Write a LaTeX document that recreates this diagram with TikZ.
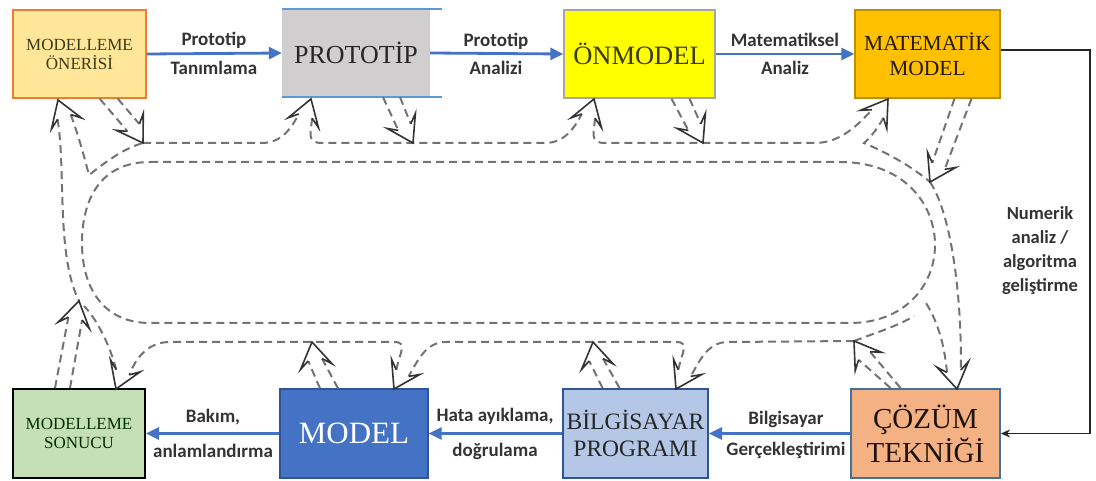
\documentclass[tikz,border=0pt]{standalone}
\usepackage{fontspec}
\setmainfont{Liberation Serif}
\newfontfamily\lblfont{Carlito}
\usetikzlibrary{arrows.meta}
\definecolor{cOneri}{HTML}{FFE699}
\definecolor{cOneriB}{HTML}{ED7D31}
\definecolor{cProto}{HTML}{D0CECE}
\definecolor{cProtoB}{HTML}{5B9BD5}
\definecolor{cOnm}{HTML}{FFFF00}
\definecolor{cOnmB}{HTML}{A6A6A6}
\definecolor{cMat}{HTML}{FFC000}
\definecolor{cMatB}{HTML}{BF8F00}
\definecolor{cSon}{HTML}{C5E0B4}
\definecolor{cModel}{HTML}{4472C4}
\definecolor{cModelB}{HTML}{2F5597}
\definecolor{cBil}{HTML}{B4C7E7}
\definecolor{cCoz}{HTML}{F4B183}
\definecolor{cCozB}{HTML}{41719C}
\definecolor{cFlow}{HTML}{4472C4}
\definecolor{cOlive}{HTML}{3A3A14}
\definecolor{cDash}{HTML}{737373}
\definecolor{cHead}{HTML}{333333}

\newcommand{\hpos}[4]{%
  \begin{scope}[shift={(#2,#3)}, rotate=#4]
    \coordinate (#1t) at (0,0);
    \coordinate (#1a) at (-18,7);
    \coordinate (#1b) at (-18,-7);
    \coordinate (#1p) at (-25,16);
    \coordinate (#1q) at (-25,-16);
  \end{scope}}
\newcommand{\bhead}[1]{%
  \fill[white] (#1t) -- (#1p) -- (#1a) -- (#1b) -- (#1q) -- cycle;
  \draw[headln] (#1a) -- (#1p) -- (#1t) -- (#1q) -- (#1b);}

\begin{document}
\begin{tikzpicture}[x=1pt,y=-1pt,
  box/.style={rectangle, align=center, inner sep=0pt, minimum height=88pt},
  trk/.style={draw=cDash, line width=2pt, dash pattern=on 8pt off 5pt},
  headln/.style={draw=cHead, line width=1.6pt, line join=miter},
  flow/.style={draw=cFlow, line width=2.8pt, -{Triangle[length=13pt,width=12pt]}},
  conn/.style={draw=black!85, line width=1.5pt, -{Stealth[length=9pt,width=8pt]}},
  lbl/.style={font=\lblfont\bfseries\fontsize{19}{22}\selectfont, text=black!80, inner sep=0pt, align=center},
  small/.style={font=\fontsize{17}{19}\selectfont},
]
\useasboundingbox (0,0) rectangle (1096,481);

% ---------- boxes ----------
\node[box, small, minimum width=133pt, fill=cOneri, draw=cOneriB, line width=1.6pt, text=cOlive] (oneri) at (79.5,54) {MODELLEME\\ÖNERİSİ};
\node[box, minimum width=148pt, fill=cProto, text=black!85, font=\fontsize{26}{28}\selectfont] (proto) at (356,53) {PROTOTİP};
\draw[draw=cProtoB, line width=1.6pt] (proto.north west) -- ([xshift=12pt]proto.north east);
\draw[draw=cProtoB, line width=1.6pt] (proto.south west) -- ([xshift=12pt]proto.south east);
\node[box, minimum width=151pt, fill=cOnm, draw=cOnmB, line width=1.4pt, text=cOlive, font=\fontsize{26.5}{28}\selectfont] (onm) at (639.5,54) {ÖNMODEL};
\node[box, minimum width=145pt, fill=cMat, draw=cMatB, line width=1.4pt, text=black!80!brown, font=\fontsize{21.5}{25}\selectfont] (mat) at (927.5,54) {MATEMATİK\\MODEL};

\node[box, small, minimum width=132pt, minimum height=89pt, fill=cSon, draw=black, line width=2pt, text=black!70!green!60!black] (son) at (79,433.5) {MODELLEME\\SONUCU};
\node[box, minimum width=148pt, minimum height=89pt, fill=cModel, draw=cModelB, line width=1.2pt, text=white, font=\fontsize{31}{32}\selectfont] (model) at (354,433.5) {MODEL};
\node[box, minimum width=145pt, minimum height=89pt, fill=cBil, draw=cModelB, line width=2pt, text=black!85, font=\fontsize{23.5}{27}\selectfont] (bil) at (635.5,433.5) {BİLGİSAYAR\\PROGRAMI};
\node[box, minimum width=149pt, minimum height=89pt, fill=cCoz, draw=cCozB, line width=2pt, text=black!85!brown, font=\fontsize{29}{34}\selectfont] (coz) at (925.5,433.5) {ÇÖZÜM\\TEKNİĞİ};

% ---------- flow arrows ----------
\draw[flow] (oneri.east) -- (proto.west);
\draw[flow] (proto.east) -- (onm.west);
\draw[flow] (onm.east) -- (mat.west);
\draw[flow] (coz.west) -- (bil.east);
\draw[flow] (bil.west) -- (model.east);
\draw[flow] (model.west) -- (son.east);

\node[lbl] (l1a) at (214,40) {Prototip};
\node[lbl] (l1b) at (214,68) {Tanımlama};
\node[lbl] (l2a) at (496,41) {Prototip};
\node[lbl] (l2b) at (496,68) {Analizi};
\node[lbl] (l3a) at (785,40) {Matematiksel};
\node[lbl] (l3b) at (785,68) {Analiz};
\node[lbl] (l4a) at (786,419) {Bilgisayar};
\node[lbl] (l4b) at (786,450) {Gerçekleştirimi};
\node[lbl] (l5a) at (495,416) {Hata ayıklama,};
\node[lbl] (l5b) at (495,451) {doğrulama};
\node[lbl] (l6a) at (213,417) {Bakım,};
\node[lbl] (l6b) at (213,451) {anlamlandırma};

% ---------- right connector ----------
\coordinate (rc) at (1090,50);
\draw[conn] ([yshift=4pt]mat.east) -- (rc) |- (coz.east);
\node[lbl, font=\lblfont\bfseries\fontsize{18.5}{24}\selectfont] (num) at (1040,251) {Numerik\\analiz /\\algoritma\\geliştirme};

% ---------- head positions ----------
\hpos{hA}{58}{100}{110}
\hpos{hB}{143}{143}{-58}
\hpos{hC}{311}{99}{72}
\hpos{hD}{413}{143}{-62}
\hpos{hE}{594}{99}{72}
\hpos{hF}{703}{143}{-62}
\hpos{hG}{888}{99}{55}
\hpos{hH}{930}{182}{-118}
\hpos{hI}{957}{389}{-80}
\hpos{hJ}{854}{341}{125}
\hpos{hK}{676}{389}{-118}
\hpos{hL}{593}{342}{100}
\hpos{hM}{394}{389}{-118}
\hpos{hN}{312}{342}{100}
\hpos{hO}{116}{389}{-112}
\hpos{hP}{79}{301}{78}

% ---------- outer track ----------
\draw[trk] (150,162) -- (840,162) .. controls (905,162) and (935,205) .. (935,245)
  .. controls (935,285) and (905,323) .. (850,323) -- (150,323)
  .. controls (105,323) and (82,290) .. (82,243) .. controls (82,200) and (100,162) .. cycle;

% ---------- inner top segments ----------
\draw[trk] (hBt) -- (262,143) .. controls (282,143) and (292,127) .. (hCb);
\draw[trk] (hCa) .. controls (311,132) and (306,143) .. (322,143) -- (545,143) .. controls (565,143) and (575,127) .. (hEb);
\draw[trk] (hEa) .. controls (594,132) and (589,143) .. (605,143) -- (815,143) .. controls (840,143) and (858,125) .. (hGb);
\draw[trk] (hGa) .. controls (878,128) and (870,138) .. (864,143) .. controls (885,152) and (910,165) .. (hHt);

% ---------- left side ----------
\draw[trk] (hAb) .. controls (66,170) and (56,255) .. (hPt);
\draw[trk] (hAa) .. controls (80,140) and (85,160) .. (89,175) .. controls (108,160) and (125,148) .. (hBt);

% ---------- top outgoing bodies ----------
\draw[trk] ([xshift=-47pt]oneri.south east) -- (hBa);
\draw[trk] ([xshift=-29pt]oneri.south east) -- (hBb);
\draw[trk] ([xshift=27pt]proto.south) -- (hDa);
\draw[trk] ([xshift=44pt]proto.south) -- (hDb);
\draw[trk] ([xshift=32pt]onm.south) -- (hFa);
\draw[trk] ([xshift=50pt]onm.south) -- (hFb);
\draw[trk] ([xshift=27pt]mat.south) -- (hHa);
\draw[trk] ([xshift=44pt]mat.south) -- (hHb);

% ---------- right side ----------
\draw[trk] (hHt) .. controls (952,215) and (962,300) .. (hIb);
\draw[trk] (hIa) .. controls (944,340) and (936,318) .. (924,300);
\draw[trk] (hJt) .. controls (875,333) and (898,326) .. (914,316);

% ---------- inner bottom segments ----------
\draw[trk] (hJt) -- (728,342) .. controls (708,342) and (700,360) .. (hKb);
\draw[trk] (hKa) .. controls (682,352) and (690,342) .. (676,342) -- (446,342) .. controls (426,342) and (418,360) .. (hMb);
\draw[trk] (hMa) .. controls (400,352) and (408,342) .. (394,342) -- (170,342) .. controls (150,342) and (137,355) .. (hOb);
\draw[trk] (hOa) .. controls (110,345) and (96,318) .. (84,306);

% ---------- bottom outgoing bodies ----------
\draw[trk] ([xshift=-35pt]coz.north) -- (hJb);
\draw[trk] ([xshift=-25pt]coz.north) -- (hJa);
\draw[trk] ([xshift=-33pt]bil.north) -- (hLb);
\draw[trk] ([xshift=-16pt]bil.north) -- (hLa);
\draw[trk] ([xshift=-34pt]model.north) -- (hNb);
\draw[trk] ([xshift=-16pt]model.north) -- (hNa);
\draw[trk] ([xshift=-24pt]son.north) -- (hPb);
\draw[trk] ([xshift=-9pt]son.north) -- (hPa);

% ---------- heads ----------
\bhead{hA}\bhead{hB}\bhead{hC}\bhead{hD}\bhead{hE}\bhead{hF}\bhead{hG}\bhead{hH}
\bhead{hI}\bhead{hJ}\bhead{hK}\bhead{hL}\bhead{hM}\bhead{hN}\bhead{hO}\bhead{hP}
\end{tikzpicture}
\end{document}
